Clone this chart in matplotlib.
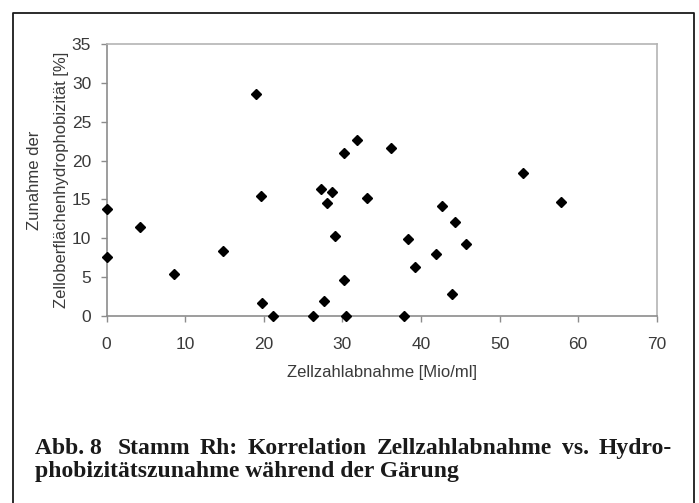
import matplotlib.pyplot as plt
from matplotlib.lines import Line2D

# Zellzahlabnahme [Mio/ml] vs. Zunahme der Hydrophobizitaet [%]
zellzahl = [0.0, 0.0, 4.3, 8.6, 14.8, 19.0, 19.6, 19.8, 21.2, 26.3,
            27.3, 28.75, 28.0, 29.1, 27.7, 30.2, 30.5, 30.2, 31.9, 33.2,
            36.2, 37.8, 38.4, 39.3, 41.9, 42.7, 44.3, 45.7, 44.0, 53.0, 57.8]
hydrophob = [13.8, 7.6, 11.4, 5.4, 8.4, 28.6, 15.4, 1.7, 0.0, 0.0,
             16.3, 15.9, 14.5, 10.3, 1.9, 4.6, 0.0, 21.0, 22.7, 15.2,
             21.6, 0.0, 9.85, 6.3, 7.95, 14.15, 12.1, 9.3, 2.75, 18.4, 14.7]
xticks = [0, 10, 20, 30, 40, 50, 60, 70]
yticks = [0, 5, 10, 15, 20, 25, 30, 35]

caption1 = ["Abb. 8 ", "Stamm", "Rh:", "Korrelation", "Zellzahlabnahme", "vs.", "Hydro-"]
caption2 = "phobizitätszunahme während der Gärung"

W, H = 699, 503
fig = plt.figure(figsize=(W / 100, H / 100), dpi=100)
ax = fig.add_axes([106.5 / W, 1 - 315.7 / H, (656.7 - 106.5) / W, (315.7 - 44.3) / H])

ax.plot(zellzahl, hydrophob, linestyle="none", marker="D", markersize=5.6,
        color="black", clip_on=False, zorder=5)

ax.set_xlim(0, 70)
ax.set_ylim(0, 35)
ax.set_xticks(xticks)
ax.set_yticks(yticks)

sans = "Liberation Sans"
for lab in ax.get_xticklabels() + ax.get_yticklabels():
    lab.set_fontfamily(sans)
    lab.set_fontsize(12.5)
    lab.set_color("#3a3a3a")
ax.tick_params(axis="x", direction="out", length=4, width=1, color="#8c8c8c", pad=11)
ax.tick_params(axis="y", direction="out", length=4, width=1, color="#8c8c8c", pad=7)

for side in ["left", "bottom"]:
    ax.spines[side].set_color("#8c8c8c")
    ax.spines[side].set_linewidth(1.2)
for side in ["top", "right"]:
    ax.spines[side].set_color("#b4b4b4")
    ax.spines[side].set_linewidth(1.2)

ax.set_xlabel("Zellzahlabnahme [Mio/ml]", fontfamily=sans, fontsize=12,
              color="#3a3a3a", labelpad=10)
ax.set_ylabel("Zunahme der\nZelloberflächenhydrophobizität [%]", fontfamily=sans,
              fontsize=12, color="#3a3a3a", labelpad=2, linespacing=2.0)

# outer frame (open at the bottom edge of the picture)
fx = [12.7 / W, 12.7 / W, 694 / W, 694 / W]
fy = [0, 1 - 12.5 / H, 1 - 12.5 / H, 0]
fig.add_artist(Line2D(fx, fy, transform=fig.transFigure, color="#1a1a1a", lw=1.3))

# caption, first line justified between x=35 and x=672
serif = dict(fontfamily="Liberation Serif", fontweight="bold", fontsize=17,
             color="#1a1a1a", va="baseline")
renderer = fig.canvas.get_renderer()
words = [fig.text(0, 1 - 454 / H, w, **serif) for w in caption1]
widths = [t.get_window_extent(renderer).width for t in words]
gap = (672 - 35 - sum(widths)) / (len(words) - 1)
x = 35.0
for t, w in zip(words, widths):
    t.set_x(x / W)
    x += w + gap
fig.text(35 / W, 1 - 477 / H, caption2, **serif)

fig.savefig("out.png", dpi=100)
